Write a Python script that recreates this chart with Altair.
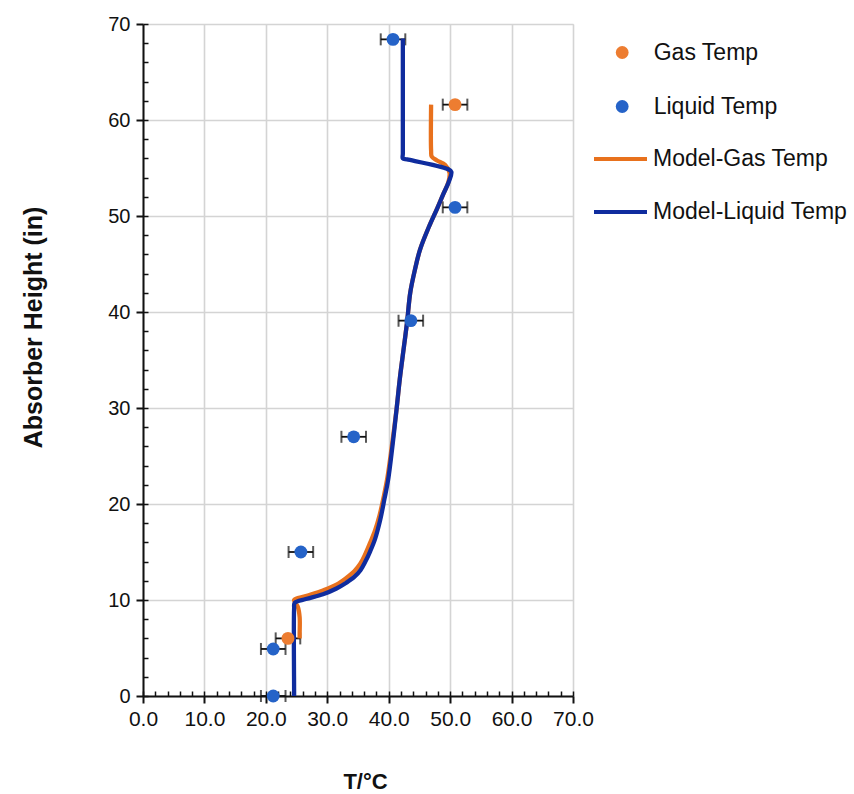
import altair as alt
import pandas as pd

# Measured temperatures (deg C) and heights (in)
gas_T = [50.8, 23.6]
gas_h = [61.6, 6.0]
liq_T = [40.7, 50.8, 43.6, 34.3, 25.7, 21.2, 21.2]
liq_h = [68.4, 50.9, 39.1, 27.0, 15.0, 4.9, 0.0]
err_T = 2.0  # +/- measurement uncertainty

# Model profiles along the column
model_liq_T = [24.6, 24.6, 24.6, 24.7, 26.5, 29.3, 31.5, 33.1, 34.4, 35.4, 36.2, 37.0, 37.8,
               38.6, 39.3, 39.9, 40.6, 41.3, 41.8, 42.5, 43.0, 43.5, 44.3, 45.1, 46.5, 47.9,
               48.9, 49.8, 50.2, 49.6, 43.0, 42.3, 42.3, 42.3]
model_liq_h = [0.0, 0.5, 9.1, 9.7, 10.1, 10.6, 11.2, 11.8, 12.4, 13.1, 14.0, 15.1, 16.4,
               18.3, 20.5, 22.5, 26.0, 30.0, 33.0, 36.5, 39.0, 42.0, 44.5, 46.5, 48.8, 50.8,
               52.3, 53.6, 54.6, 54.9, 55.9, 56.0, 56.5, 68.5]
model_gas_T = [25.5, 25.5, 25.5, 25.2, 24.6, 26.5, 29.3, 31.5, 33.1, 34.4, 35.4, 36.2, 37.0,
               37.8, 38.5, 39.2, 39.8, 40.5, 41.3, 41.8, 42.5, 43.0, 43.5, 44.3, 45.1, 46.5,
               47.9, 48.9, 49.7, 49.9, 49.2, 47.8, 47.0, 46.9, 46.9]
model_gas_h = [6.0, 6.5, 8.2, 9.3, 10.0, 10.4, 11.0, 11.6, 12.3, 13.0, 13.8, 14.8, 16.0,
               17.3, 18.8, 20.8, 22.8, 26.0, 30.0, 33.0, 36.5, 39.0, 42.0, 44.5, 46.5, 48.8,
               50.8, 52.3, 53.5, 54.5, 55.3, 55.8, 56.2, 56.8, 61.6]

point_names = ["Gas Temp", "Liquid Temp"]
line_names = ["Model-Gas Temp", "Model-Liquid Temp"]

points = pd.DataFrame({
    "series": [point_names[0]] * len(gas_T) + [point_names[1]] * len(liq_T),
    "T": gas_T + liq_T,
    "h": gas_h + liq_h,
})
points["lo"] = points["T"] - err_T
points["hi"] = points["T"] + err_T

lines = pd.DataFrame({
    "series": [line_names[0]] * len(model_gas_T) + [line_names[1]] * len(model_liq_T),
    "T": model_gas_T + model_liq_T,
    "h": model_gas_h + model_liq_h,
    "idx": list(range(len(model_gas_T))) + list(range(len(model_liq_T))),
})

FONT = "Liberation Sans"
W, H = 430, 672
x_scale = alt.Scale(domain=[0, 70], nice=False, zero=False)
y_scale = alt.Scale(domain=[0, 70], nice=False, zero=False)
major = list(range(0, 71, 10))
minor = list(range(0, 71, 2))

x_main = alt.Axis(values=major, format=".1f", orient="bottom", title="T/°C",
                  labelFont=FONT, labelFontSize=21, labelColor="#111", labelPadding=5,
                  labelFlush=False, labelOverlap=False,
                  tickSize=7, tickWidth=2, tickColor="#111",
                  domainColor="#111", domainWidth=2,
                  grid=True, gridColor="#d4d4d4", gridWidth=1.6,
                  titleFont=FONT, titleFontSize=22, titleFontWeight="bold", titleColor="#111",
                  titleX=222, titleY=92, titleBaseline="alphabetic", titleAlign="center")
y_main = alt.Axis(values=major, format="d", orient="left", title="Absorber Height (in)",
                  labelFont=FONT, labelFontSize=20, labelColor="#111", labelPadding=6,
                  labelFlush=False, labelOverlap=False,
                  tickSize=7, tickWidth=2, tickColor="#111",
                  domainColor="#111", domainWidth=2,
                  grid=True, gridColor="#d4d4d4", gridWidth=1.6,
                  titleFont=FONT, titleFontSize=25, titleFontWeight="bold", titleColor="#111",
                  titleX=-110, titleY=303, titleAlign="center", titleBaseline="middle",
                  titleAngle=270)
# inner minor ticks drawn by axes pushed onto the opposite edge
x_minor = alt.Axis(values=minor, orient="top", offset=-H, labels=False, domain=False,
                   grid=False, tickSize=5, tickWidth=1.5, tickColor="#111", title=None)
y_minor = alt.Axis(values=minor, orient="right", offset=-W, labels=False, domain=False,
                   grid=False, tickSize=5, tickWidth=1.5, tickColor="#111", title=None)

err_rule = alt.Chart(points).mark_rule(color="#111", strokeWidth=1.8).encode(
    x=alt.X("lo:Q", scale=x_scale, axis=x_minor),
    x2="hi:Q",
    y=alt.Y("h:Q", scale=y_scale, axis=y_minor),
)
err_caps_lo = alt.Chart(points).mark_tick(color="#111", orient="vertical", size=12,
                                          thickness=2).encode(
    x=alt.X("lo:Q", scale=x_scale, axis=None),
    y=alt.Y("h:Q", scale=y_scale, axis=None),
)
err_caps_hi = alt.Chart(points).mark_tick(color="#111", orient="vertical", size=12,
                                          thickness=2).encode(
    x=alt.X("hi:Q", scale=x_scale, axis=None),
    y=alt.Y("h:Q", scale=y_scale, axis=None),
)

model = alt.Chart(lines).mark_line(strokeWidth=4.3, strokeJoin="round",
                                   interpolate="catmull-rom").encode(
    x=alt.X("T:Q", scale=x_scale, axis=x_main),
    y=alt.Y("h:Q", scale=y_scale, axis=y_main),
    order="idx:Q",
    color=alt.Color("series:N",
                    scale=alt.Scale(domain=line_names, range=["#E8711D", "#0F2C9E"]),
                    legend=alt.Legend(title=None, orient="none", legendX=449, legendY=106.5,
                                      padding=0, symbolType="stroke", symbolSize=2809,
                                      symbolStrokeWidth=4, labelOffset=4, rowPadding=12,
                                      labelLimit=400,
                                      labelFont=FONT, labelFontSize=23, labelColor="#111")),
)

meas = alt.Chart(points).mark_circle(size=165, opacity=1).encode(
    x=alt.X("T:Q", scale=x_scale, axis=None),
    y=alt.Y("h:Q", scale=y_scale, axis=None),
    color=alt.Color("series:N",
                    scale=alt.Scale(domain=point_names, range=["#ED7D31", "#2563C8"]),
                    legend=alt.Legend(title=None, orient="none", legendX=467.7, legendY=17,
                                      padding=0, symbolType="circle", symbolSize=165,
                                      symbolStrokeWidth=0, symbolOpacity=1, labelOffset=20,
                                      rowPadding=30, labelLimit=400,
                                      labelFont=FONT, labelFontSize=23, labelColor="#111")),
)

chart = alt.layer(err_rule, err_caps_lo, err_caps_hi, model, meas).resolve_scale(
    color="independent"
).resolve_axis(
    x="independent", y="independent"
).properties(
    width=W, height=H,
    autosize=alt.AutoSizeParams(type="none"),
    padding={"left": 143, "top": 24, "right": 281, "bottom": 98},
).configure_view(stroke=None).configure(background="white")

chart.save("out.html", embed_options={"renderer": "svg", "actions": False})
